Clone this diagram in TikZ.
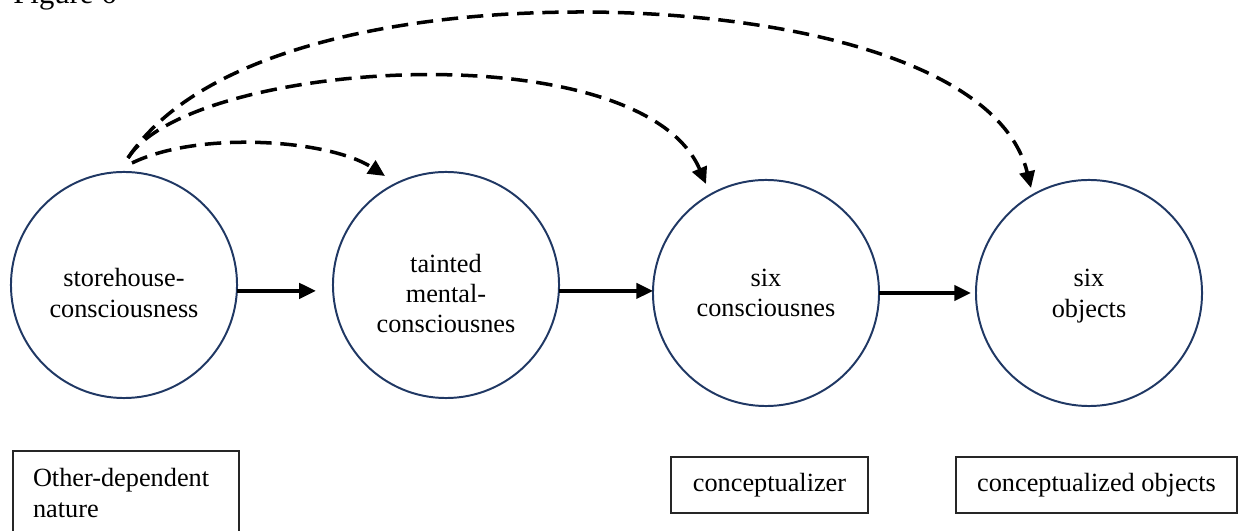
\documentclass[tikz,border=0pt]{standalone}
\usepackage{fontspec}
\setmainfont{Liberation Serif}
\usetikzlibrary{arrows.meta}
\definecolor{ringblue}{RGB}{32,56,100}
\tikzset{
  ring/.style={circle, draw=ringblue, line width=0.9pt, minimum size=103.2pt, inner sep=0pt, outer sep=0pt},
  lbl/.style={align=center, inner sep=0pt, font=\fontsize{12}{13.8}\selectfont},
  tag/.style={draw=black!85, line width=0.6pt, inner sep=0pt, font=\fontsize{12}{13.8}\selectfont},
  flow/.style={line width=1.5pt, -{Triangle[length=7.6pt,width=7pt]}},
  hint/.style={line width=1.6pt, dash pattern=on 7.5pt off 4pt, -{Triangle[length=7.6pt,width=7pt]}}
}
\begin{document}
\begin{tikzpicture}[x=0.4565pt, y=-0.4565pt]
\useasboundingbox (0,0) rectangle (1240,531);
\clip (0,0) rectangle (1240,531);

% heading, partly above the top edge
\node[anchor=base west, inner sep=0pt, font=\fontsize{14}{16}\selectfont] (title) at (13,3.5) {Figure 6};

% the four stages
\node[ring] (c1) at (124,285) {};
\node[ring] (c2) at (446,285) {};
\node[ring] (c3) at (766,293) {};
\node[ring] (c4) at (1089,293) {};

\node[lbl] (t1) at (124,293) {storehouse-\\consciousness};
\node[lbl] (t2) at (446,293.5) {tainted\\mental-\\consciousnes};
\node[lbl] (t3) at (766,293) {six\\consciousnes};
\node[lbl] (t4) at (1089,296) {six\\objects};

% captions under the circles
\node[tag, minimum width=103.2pt, minimum height=38.3pt, text width=84.9pt, align=left] (n1) at (126,493) {Other-dependent\\nature};
\node[tag, minimum width=89.9pt, minimum height=25.6pt] (n3) at (769.5,485) {conceptualizer};
\node[tag, minimum width=128.3pt, minimum height=25.6pt] (n4) at (1096.5,485) {conceptualized objects};

% solid flow arrows
\draw[flow] (c1.-3.5) -- ([xshift=-7.8pt]c2.west |- c1.-3.5);
\draw[flow] (c2.-3.5) -- (c3.west |- c2.-3.5);
\draw[flow] (c3.east) -- ([xshift=-2.3pt]c4.west);

% dashed influence arcs from the storehouse
\coordinate (src) at (128,158);
\coordinate (srcb) at (132,163);
\coordinate (hit2) at (385,176);
\coordinate (hit3) at (706,184);
\coordinate (hit4) at (1031,188);
\coordinate (apex) at (581,12);

\draw[hint] (srcb) .. controls (200,130) and (330,140) .. (hit2);
\draw[hint] (src) .. controls (190,60) and (640,30) .. (hit3);
\draw[hint] (src) .. controls (200,50) and (400,12) .. (apex) .. controls (780,12) and (1000,60) .. (hit4);
\end{tikzpicture}
\end{document}
